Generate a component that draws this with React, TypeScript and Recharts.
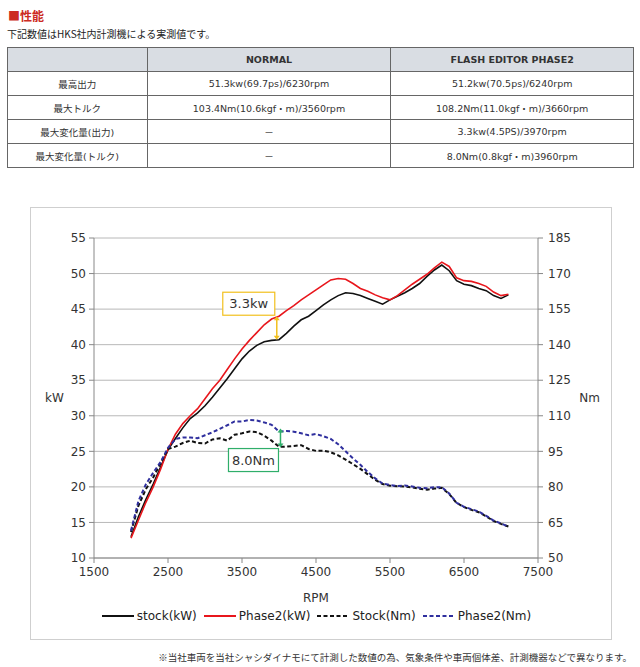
import { LineChart, Line, XAxis, YAxis, CartesianGrid, Legend, ReferenceLine } from "recharts"

const rpm = [
  2000, 2100, 2200, 2300, 2400, 2500, 2600, 2700, 2800, 2900, 3000, 3100, 3200, 3300, 3400, 3500, 3600, 3700,
  3800, 3900, 4000, 4100, 4200, 4300, 4400, 4500, 4600, 4700, 4800, 4900, 5000, 5100, 5200, 5300, 5400, 5500,
  5600, 5700, 5800, 5900, 6000, 6100, 6200, 6300, 6400, 6500, 6600, 6700, 6800, 6900, 7000, 7100,
]

const stockKw = [
  13.0, 15.8, 18.2, 20.4, 22.8, 25.2, 26.8, 28.3, 29.6, 30.4, 31.4, 32.6, 33.9, 35.2, 36.6, 38.0, 39.1, 39.9,
  40.4, 40.6, 40.7, 41.6, 42.6, 43.5, 44.0, 44.8, 45.6, 46.3, 46.9, 47.3, 47.2, 46.9, 46.5, 46.1, 45.7, 46.3,
  46.8, 47.3, 47.9, 48.6, 49.6, 50.5, 51.2, 50.4, 49.0, 48.5, 48.3, 47.9, 47.6, 46.9, 46.5, 47.0,
]

const phase2Kw = [
  12.8, 15.3, 17.8, 20.0, 22.5, 25.3, 27.4, 28.9, 30.0, 31.0, 32.4, 33.8, 35.0, 36.5, 38.0, 39.4, 40.6, 41.7,
  42.8, 43.6, 44.0, 44.8, 45.5, 46.3, 47.0, 47.7, 48.4, 49.1, 49.3, 49.2, 48.6, 47.9, 47.5, 47.0, 46.6, 46.3,
  46.9, 47.7, 48.5, 49.2, 49.9, 50.8, 51.6, 51.0, 49.4, 49.0, 48.9, 48.6, 48.2, 47.4, 46.9, 47.1,
]

const stockNm = [
  61, 72, 79, 84, 90, 96, 97, 98.5, 99.5, 98.5, 98.3, 100, 100.5, 99.5, 102, 102.6, 103.4, 103.1,
  101.6, 99.5, 96.9, 97, 97.3, 97.6, 96, 95.2, 95.3, 94.6, 93.3, 91.5, 89.6, 87.6, 85.3, 83, 81.2, 80.5,
  80.3, 80.1, 79.8, 79.2, 78.8, 79.3, 79.6, 77, 73.2, 71.5, 70.3, 69.3, 67.6, 65.6, 64.4, 63.3,
]

const phase2Nm = [
  61.5, 74, 81, 86, 90.5, 96.5, 100.2, 100.8, 100.8, 100.5, 101.8, 103, 104.5, 106, 107.6, 107.6, 108.2, 108,
  107.2, 106.2, 103.4, 103.6, 103.3, 102.6, 101.8, 102.3, 101.4, 100.2, 98, 95, 92, 89.3, 86.3, 83.6, 81.4, 80.8,
  80.4, 80.6, 80.2, 79.6, 79.4, 79.9, 79.9, 77.2, 73.3, 71.6, 70.6, 69.6, 67.8, 65.8, 64.6, 63.2,
]

const rpmTicks = [1500, 2500, 3500, 4500, 5500, 6500, 7500]
const kwTicks = [10, 15, 20, 25, 30, 35, 40, 45, 50, 55]
const nmTicks = [50, 65, 80, 95, 110, 125, 140, 155, 170, 185]

const tableHead = ["", "NORMAL", "FLASH EDITOR PHASE2"]
const tableRows = [
  ["最高出力", "51.3kw(69.7ps)/6230rpm", "51.2kw(70.5ps)/6240rpm"],
  ["最大トルク", "103.4Nm(10.6kgf・m)/3560rpm", "108.2Nm(11.0kgf・m)/3660rpm"],
  ["最大変化量(出力)", "－", "3.3kw(4.5PS)/3970rpm"],
  ["最大変化量(トルク)", "－", "8.0Nm(0.8kgf・m)3960rpm"],
]

const series = [
  { key: "stockKw", name: "stock(kW)", color: "#111111", axis: "kw", dash: undefined, width: 1.6 },
  { key: "phase2Kw", name: "Phase2(kW)", color: "#e8161c", axis: "kw", dash: undefined, width: 1.6 },
  { key: "stockNm", name: "Stock(Nm)", color: "#111111", axis: "nm", dash: "4 2.5", width: 2 },
  { key: "phase2Nm", name: "Phase2(Nm)", color: "#2f2f9e", axis: "nm", dash: "4 2.5", width: 2 },
]

const data = rpm.map((r, i) => ({
  rpm: r,
  stockKw: stockKw[i],
  phase2Kw: phase2Kw[i],
  stockNm: stockNm[i],
  phase2Nm: phase2Nm[i],
}))

const font = "'DejaVu Sans', Verdana, sans-serif"
const jpFont = "'DejaVu Sans', 'Noto Sans CJK JP', sans-serif"

const makeNote = (text: string, color: string, boxW: number, above: boolean) => (p: any) => {
  const x = p.x1
  const top = Math.min(p.y1, p.y2)
  const bottom = Math.max(p.y1, p.y2)
  const boxH = 23
  const bx = x - 2 - boxW
  const by = above ? top - boxH - 1 : bottom + 1
  const h = 3
  return (
    <g>
      <line x1={x} y1={top + 3} x2={x} y2={bottom - 3} stroke={color} strokeWidth={1.5} />
      <polygon points={`${x - h},${top + 4} ${x + h},${top + 4} ${x},${top}`} fill={color} />
      <polygon points={`${x - h},${bottom - 4} ${x + h},${bottom - 4} ${x},${bottom}`} fill={color} />
      <rect x={bx} y={by} width={boxW} height={boxH} fill="#fff" stroke={color} strokeWidth={1.2} />
      <text x={bx + boxW / 2} y={by + 16} textAnchor="middle" fontSize={13} fontFamily={font} fill="#333">
        {text}
      </text>
    </g>
  )
}

const LegendBox = () => (
  <div style={{ display: "flex", justifyContent: "center", height: 20, alignItems: "center", fontFamily: font, fontSize: 12, color: "#222" }}>
    {series.map((s) => (
      <div key={s.key} style={{ display: "flex", alignItems: "center", marginRight: 6 }}>
        <svg width={34} height={6} style={{ marginRight: 2 }}>
          <line x1={1} y1={3} x2={33} y2={3} stroke={s.color} strokeWidth={2} strokeDasharray={s.dash} />
        </svg>
        <span>{s.name}</span>
      </div>
    ))}
  </div>
)

export default function App() {
  const cell: any = { border: "1px solid #666", textAlign: "center", padding: 0, height: 23 }
  return (
    <div style={{ position: "absolute", left: 0, top: 0, width: 640, height: 667, background: "#fff", fontFamily: jpFont }}>
      <div style={{ position: "absolute", left: 8, top: 7, fontSize: 12, fontWeight: "bold", color: "#cc2a22", fontFamily: "'Noto Sans CJK JP', sans-serif" }}>
        ■性能
      </div>
      <div style={{ position: "absolute", left: 7, top: 26, fontSize: 10, color: "#222", fontFamily: "'Noto Sans CJK JP', sans-serif" }}>
        下記数値はHKS社内計測機による実測値です。
      </div>
      <table
        style={{ position: "absolute", left: 7, top: 47, width: 627, borderCollapse: "collapse", fontSize: 9.5, color: "#333", fontFamily: jpFont }}
      >
        <colgroup>
          <col style={{ width: 140 }} />
          <col style={{ width: 244 }} />
          <col style={{ width: 243 }} />
        </colgroup>
        <thead>
          <tr style={{ background: "#d9dde3" }}>
            {tableHead.map((h, i) => (
              <th key={i} style={{ ...cell, fontWeight: "bold" }}>{h}</th>
            ))}
          </tr>
        </thead>
        <tbody>
          {tableRows.map((row, i) => (
            <tr key={i}>
              {row.map((c, j) => (
                <td key={j} style={cell}>{c}</td>
              ))}
            </tr>
          ))}
        </tbody>
      </table>

      <div style={{ position: "absolute", left: 30, top: 207, width: 582, height: 433, border: "1px solid #cfcfcf", boxSizing: "border-box" }}>
        <LineChart width={580} height={431} data={data} margin={{ top: 30, left: 9, right: 13, bottom: 13 }}>
          <CartesianGrid yAxisId="kw" vertical={false} stroke="#b8b8b8" strokeWidth={1} />
          <XAxis
            dataKey="rpm"
            type="number"
            domain={[1500, 7500]}
            ticks={rpmTicks}
            height={48}
            tickSize={5}
            tickMargin={4}
            stroke="#888"
            tick={{ fill: "#333", fontSize: 12, fontFamily: font }}
            label={{ value: "RPM", position: "insideBottom", offset: 4, style: { fill: "#333", fontSize: 12, fontFamily: font } }}
          />
          <YAxis
            yAxisId="kw"
            domain={[10, 55]}
            ticks={kwTicks}
            width={54}
            tickSize={5}
            tickMargin={3}
            stroke="#888"
            tick={{ fill: "#333", fontSize: 12, fontFamily: font }}
            label={{ value: "kW", position: "insideLeft", offset: 5, style: { fill: "#333", fontSize: 12, fontFamily: font } }}
          />
          <YAxis
            yAxisId="nm"
            orientation="right"
            domain={[50, 185]}
            ticks={nmTicks}
            width={60}
            tickSize={5}
            tickMargin={5}
            stroke="#888"
            tick={{ fill: "#333", fontSize: 12, fontFamily: font }}
            label={{ value: "Nm", position: "insideRight", offset: -2, style: { fill: "#333", fontSize: 12, fontFamily: font } }}
          />
          {series.map((s) => (
            <Line
              key={s.key}
              yAxisId={s.axis}
              dataKey={s.key}
              name={s.name}
              type="linear"
              stroke={s.color}
              strokeWidth={s.width}
              strokeDasharray={s.dash}
              dot={false}
              isAnimationActive={false}
            />
          ))}
          <ReferenceLine
            yAxisId="kw"
            segment={[{ x: 3970, y: 44.0 }, { x: 3970, y: 40.7 }]}
            shape={makeNote("3.3kw", "#f2c01e", 52, true)}
          />
          <ReferenceLine
            yAxisId="nm"
            segment={[{ x: 4020, y: 104.6 }, { x: 4020, y: 96.6 }]}
            shape={makeNote("8.0Nm", "#2fae6a", 50, false)}
          />
          <Legend verticalAlign="bottom" content={<LegendBox />} />
        </LineChart>
      </div>

      <div style={{ position: "absolute", right: 8, top: 650, fontSize: 9.5, color: "#333", fontFamily: "'Noto Sans CJK JP', sans-serif" }}>
        ※当社車両を当社シャシダイナモにて計測した数値の為、気象条件や車両個体差、計測機器などで異なります。
      </div>
    </div>
  )
}
